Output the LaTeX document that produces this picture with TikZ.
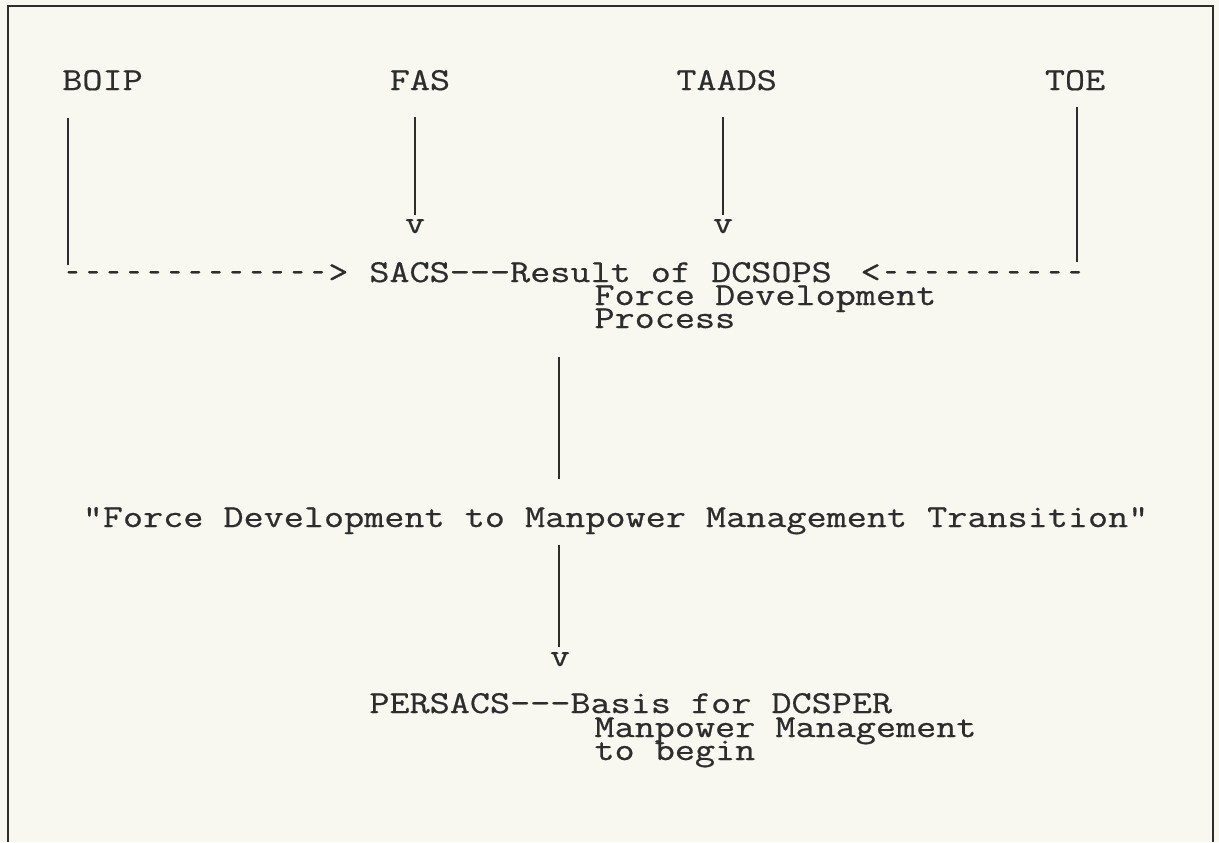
\documentclass[tikz,border=0pt]{standalone}
\usepackage{fontspec}
\usetikzlibrary{calc}
% typewriter face, widened to a 10-pitch look
\newfontfamily\typewriter{Latin Modern Mono}[FakeStretch=1.22,FakeBold=0.6]
% one typed hyphen, kept short inside a full 10-pitch cell so that dashes stay apart
\newcommand\typedash{\makebox[15.35pt][c]{\scalebox{0.62}[1]{-}}}
\newcommand\typerule[1]{\foreach \k in {1,...,#1}{\typedash}}
\definecolor{paper}{RGB}{248,248,241}
\definecolor{ink}{RGB}{45,45,45}
\begin{document}
\begin{tikzpicture}[x=0.75pt,y=-0.75pt,
  txt/.style={inner sep=0pt, anchor=base west, text=ink,
    font=\typewriter\fontsize{24}{17.6}\selectfont},
  vmark/.style={inner sep=0pt, anchor=base, text=ink,
    font=\typewriter\fontsize{24}{17.6}\selectfont},
  wire/.style={draw=ink, line width=1.4pt},
  frame/.style={draw=ink, line width=1.6pt}]

% page and outer frame (open at the bottom)
\fill[paper] (0,0) rectangle (1219,842);
\useasboundingbox (0,0) rectangle (1219,842);
\draw[frame] (8,842) |- (1213,6) -- (1213,842);

% sources along the top
\node[txt] (boip)  at (62,90)     {BOIP};
\node[txt] (fas)   at (389.5,90)  {FAS};
\node[txt] (taads) at (676.1,90)  {TAADS};
\node[txt] (toe)   at (1044.6,90) {TOE};

% arrow heads typed as v
\node[vmark] (vfas)   at (415,233) {v};
\node[vmark] (vtaads) at (723,233) {v};

% SACS line with its typed dashed arrows
\node[txt] (ldash) at (62,282)    {\typerule{13}>};
\node[txt] (sacs)  at (369.1,282) {SACS---Result of DCSOPS};
\node[txt] (rdash) at (860.3,282) {<\typerule{10}};
\node[txt] (sacs2) at (594.2,305) {Force Development};
\node[txt] (sacs3) at (594.2,328) {Process};

% transition caption
\node[txt] (trans) at (82.5,527) {"Force Development to Manpower Management Transition"};

% PERSACS block
\node[vmark] (vlow) at (560,666) {v};
\node[txt] (pers)  at (369.1,713) {PERSACS---Basis for DCSPER};
\node[txt] (pers2) at (594.2,737) {Manpower Management};
\node[txt] (pers3) at (594.2,760) {to begin};

% vertical connectors
\draw[wire] ($(boip.base west)+(6,28)$) -- ($(ldash.base west)+(6,-17)$);
\draw[wire] ($(vfas.base)+(0,-116)$) -- ($(vfas.base)+(0,-18)$);
\draw[wire] ($(vtaads.base)+(0,-116)$) -- ($(vtaads.base)+(0,-18)$);
\draw[wire] ($(rdash.base east)+(-9,-175)$) -- ($(rdash.base east)+(-9,-20)$);
\draw[wire] ($(vlow.base)+(-1,-309)$) -- ($(vlow.base)+(-1,-187)$);
\draw[wire] ($(vlow.base)+(-1,-121)$) -- ($(vlow.base)+(-1,-19)$);
\end{tikzpicture}
\end{document}
